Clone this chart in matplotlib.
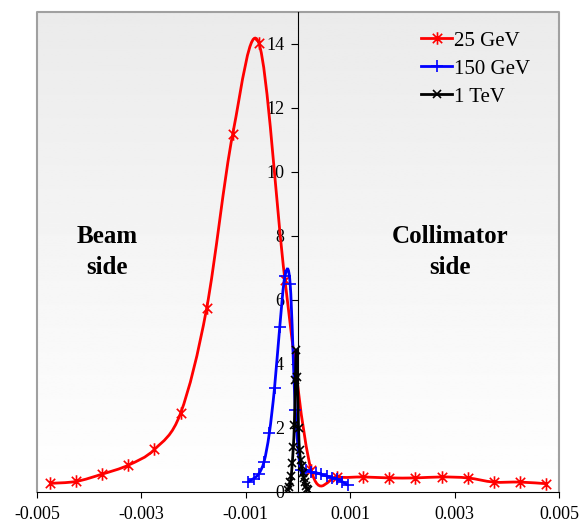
import matplotlib.pyplot as plt
import numpy as np
from matplotlib.lines import Line2D
from matplotlib.patches import PathPatch
from matplotlib.path import Path

plt.rcParams["font.family"] = ["Liberation Serif", "DejaVu Serif"]

# 25 GeV
x_25 = [-0.00475, -0.00425, -0.00375, -0.00325, -0.00275, -0.00225, -0.00175,
        -0.00125, -0.00075, -0.00025, 0.00025, 0.00075, 0.00125, 0.00175,
        0.00225, 0.00275, 0.00325, 0.00375, 0.00425, 0.00475]
y_25 = [0.27, 0.33, 0.56, 0.84, 1.33, 2.46, 5.74, 11.19, 14.03, 6.63,
        0.70, 0.47, 0.47, 0.44, 0.44, 0.47, 0.44, 0.31, 0.31, 0.26]

# 150 GeV
x_150 = [-0.00095, -0.00085, -0.00075, -0.00065, -0.00055, -0.00045, -0.00035,
         -0.00025, -0.00015, -0.00005, 0.00005, 0.00015, 0.00025, 0.00035,
         0.00045, 0.00055, 0.00065, 0.00075, 0.00085, 0.00095]
y_150 = [0.32, 0.42, 0.57, 0.95, 1.83, 3.25, 5.15, 6.75, 6.50, 2.55,
         0.69, 0.68, 0.62, 0.60, 0.55, 0.50, 0.45, 0.40, 0.32, 0.22]

# 1 TeV
x_1t = [-0.00019, -0.00017, -0.00015, -0.00013, -0.00011, -0.00009, -0.00007,
        -0.00005, -0.00003, -0.00001, 0.00001, 0.00003, 0.00005, 0.00007,
        0.00009, 0.00011, 0.00013, 0.00015, 0.00017, 0.00019]
y_1t = [0.05, 0.15, 0.30, 0.50, 0.90, 1.40, 2.10, 3.50, 4.45, 3.60,
        2.00, 1.30, 1.00, 0.80, 0.60, 0.45, 0.30, 0.20, 0.10, 0.05]

x_ticks = [-0.005, -0.003, -0.001, 0.001, 0.003, 0.005]
x_labels = ["-0.005", "-0.003", "-0.001", "0.001", "0.003", "0.005"]
y_ticks = [0, 2, 4, 6, 8, 10, 12, 14]

STAR = Path([(0, -1), (0, 1), (-0.75, -0.75), (0.75, 0.75), (-0.75, 0.75), (0.75, -0.75)],
            [Path.MOVETO, Path.LINETO] * 3)


def smooth_path(xs, ys):
    # excel-like smoothed line: bezier through every point
    pts = np.column_stack([xs, ys])
    n = len(pts)
    verts = [pts[0]]
    codes = [Path.MOVETO]
    for i in range(n - 1):
        p0 = pts[max(i - 1, 0)]
        p1 = pts[i]
        p2 = pts[i + 1]
        p3 = pts[min(i + 2, n - 1)]
        verts += [p1 + (p2 - p0) / 6, p2 - (p3 - p1) / 6, p2]
        codes += [Path.CURVE4] * 3
    return Path(verts, codes)


fig = plt.figure(figsize=(5.86, 5.25), dpi=100)
ax = fig.add_axes([37 / 586, 33 / 525, 522 / 586, 480 / 525])
ax.set_xlim(-0.005, 0.005)
ax.set_ylim(0, 15)

# light grey at the top fading to white at the bottom
grad = np.linspace(0.92, 1.0, 256).reshape(-1, 1)
ax.imshow(grad, cmap="gray", vmin=0, vmax=1, extent=[0, 1, 0, 1], origin="upper",
          aspect="auto", transform=ax.transAxes, zorder=0)

series = [
    (x_25, y_25, "red", STAR, 9, "25 GeV"),
    (x_150, y_150, "blue", "+", 8, "150 GeV"),
    (x_1t, y_1t, "black", "x", 6, "1 TeV"),
]
handles = []
for i, (xs, ys, c, m, ms, lab) in enumerate(series):
    ax.add_patch(PathPatch(smooth_path(xs, ys), fill=False, edgecolor=c, lw=2, zorder=3 + i))
    ax.plot(xs, ys, ls="none", marker=m, ms=ms, mew=1.2, color=c, zorder=3 + i)
    handles.append(Line2D([], [], color=c, lw=2, marker=m, ms=ms, mew=1.2, label=lab))

# frame
for s in ["top", "right"]:
    ax.spines[s].set_visible(False)
ax.plot([0, 0, 1, 1], [0, 1, 1, 0], transform=ax.transAxes, color="#a0a0a0", lw=1.5,
        clip_on=False, zorder=2)
ax.spines["left"].set_position(("data", 0))
ax.spines["left"].set_color("black")
ax.spines["bottom"].set_color("black")

ax.set_xticks(x_ticks)
ax.set_xticklabels(x_labels)
ax.set_yticks(y_ticks)
ax.tick_params(axis="x", direction="out", length=4, pad=6, labelsize=13)
ax.tick_params(axis="y", direction="out", length=5, pad=5, labelsize=13)

ax.text(-0.00366, 7.5, "Beam\nside", ha="center", va="center", fontsize=18,
        fontweight="bold", linespacing=1.45)
ax.text(0.00291, 7.5, "Collimator\nside", ha="center", va="center", fontsize=18,
        fontweight="bold", linespacing=1.45)

ax.legend(handles=handles, loc="upper left", bbox_to_anchor=(0.7356, 0.96), frameon=False,
          fontsize=15, handlelength=1.5, handletextpad=0.1, labelspacing=0.4,
          borderaxespad=0, borderpad=0)

fig.savefig("out.png", dpi=100)
